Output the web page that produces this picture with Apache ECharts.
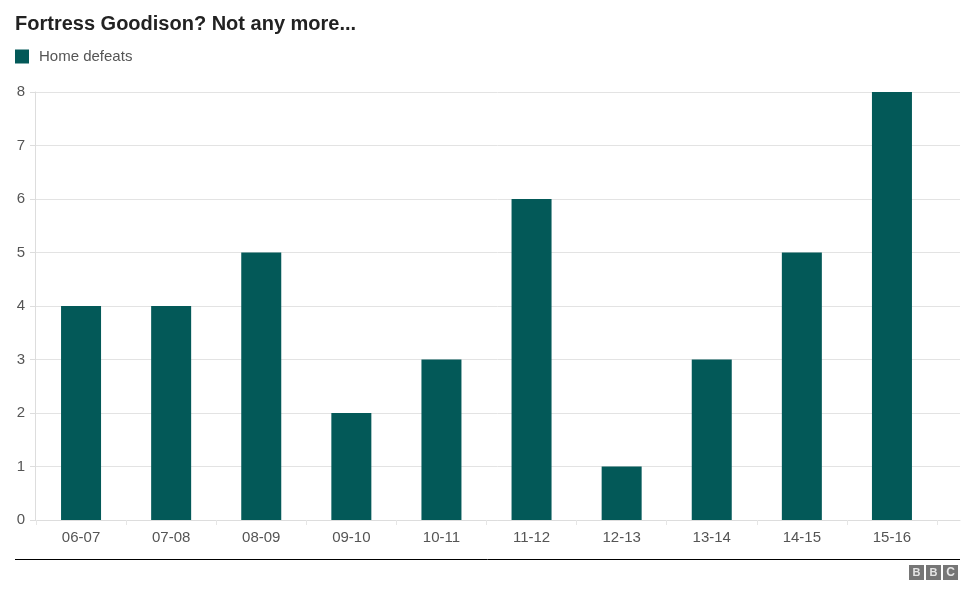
<!DOCTYPE html>
<html>
<head>
<meta charset="utf-8">
<script src="https://cdn.jsdelivr.net/npm/echarts@6/dist/echarts.min.js"></script>
<style>html,body{margin:0;padding:0;background:#fff}#c{width:976px;height:604px}</style>
</head>
<body>
<div id="c"></div>
<script>
var categories = ['06-07','07-08','08-09','09-10','10-11','11-12','12-13','13-14','14-15','15-16'];
var homeDefeats = [4,4,5,2,3,6,1,3,5,8];
var yTicks = [0,1,2,3,4,5,6,7,8];

var chart = echarts.init(document.getElementById('c'));
var font = 'Liberation Sans, Arial, Helvetica, sans-serif';
var yMin = yTicks[0], yMax = yTicks[yTicks.length-1];
chart.setOption({
  animation: false,
  textStyle: {fontFamily: font},
  title: {
    text: 'Fortress Goodison? Not any more...',
    left: 10, top: 9,
    textStyle: {fontSize: 20, fontWeight: 'bold', color: '#222', fontFamily: font}
  },
  legend: {
    left: 10, top: 44,
    icon: 'rect', itemWidth: 14, itemHeight: 14, itemGap: 10,
    textStyle: {fontSize: 15, color: '#555', fontFamily: font, padding: [0,0,0,5]},
    data: ['Home defeats']
  },
  grid: [
    {left: 35, right: 16, top: 92, bottom: 84},
    {left: 36, right: 39, top: 92, bottom: 84}
  ],
  xAxis: [
    {
      type: 'value', gridIndex: 0, min: 0, max: 1,
      axisLine: {show: true, lineStyle: {color: '#ddd'}},
      axisTick: {show: false}, axisLabel: {show: false}, splitLine: {show: false}
    },
    {
      type: 'category', gridIndex: 1,
      data: categories,
      axisLine: {show: false},
      axisTick: {show: true, length: 5, lineStyle: {color: '#e6e6e6'}},
      axisLabel: {color: '#555', fontSize: 15, margin: 10, fontFamily: font}
    }
  ],
  yAxis: [
    {
      type: 'value', gridIndex: 0,
      min: yMin, max: yMax, interval: 1,
      axisLine: {show: true, lineStyle: {color: '#ddd'}},
      axisTick: {show: true, length: 5, lineStyle: {color: '#ddd'}},
      splitLine: {lineStyle: {color: '#e3e3e3'}},
      axisLabel: {color: '#555', fontSize: 15, margin: 10, fontFamily: font}
    },
    {
      type: 'value', gridIndex: 1,
      min: yMin, max: yMax, interval: 1, show: false
    }
  ],
  series: [{
    name: 'Home defeats',
    type: 'bar',
    xAxisIndex: 1, yAxisIndex: 1,
    data: homeDefeats,
    barWidth: 40,
    itemStyle: {color: '#035958'}
  }],
  graphic: [
    {type: 'line', shape: {x1: 15, y1: 559.5, x2: 960, y2: 559.5}, style: {stroke: '#000', lineWidth: 1}},
    {type: 'rect', shape: {x: 909, y: 565, width: 15, height: 15}, style: {fill: '#767676'}},
    {type: 'rect', shape: {x: 926, y: 565, width: 15, height: 15}, style: {fill: '#767676'}},
    {type: 'rect', shape: {x: 943, y: 565, width: 15, height: 15}, style: {fill: '#767676'}},
    {type: 'text', style: {x: 916.5, y: 573, text: 'B', fill: '#e6e6e6', font: 'bold 11px ' + font, align: 'center', verticalAlign: 'middle'}},
    {type: 'text', style: {x: 933.5, y: 573, text: 'B', fill: '#e6e6e6', font: 'bold 11px ' + font, align: 'center', verticalAlign: 'middle'}},
    {type: 'text', style: {x: 950.5, y: 573, text: 'C', fill: '#e6e6e6', font: 'bold 12px ' + font, align: 'center', verticalAlign: 'middle'}}
  ]
});
</script>
</body>
</html>
